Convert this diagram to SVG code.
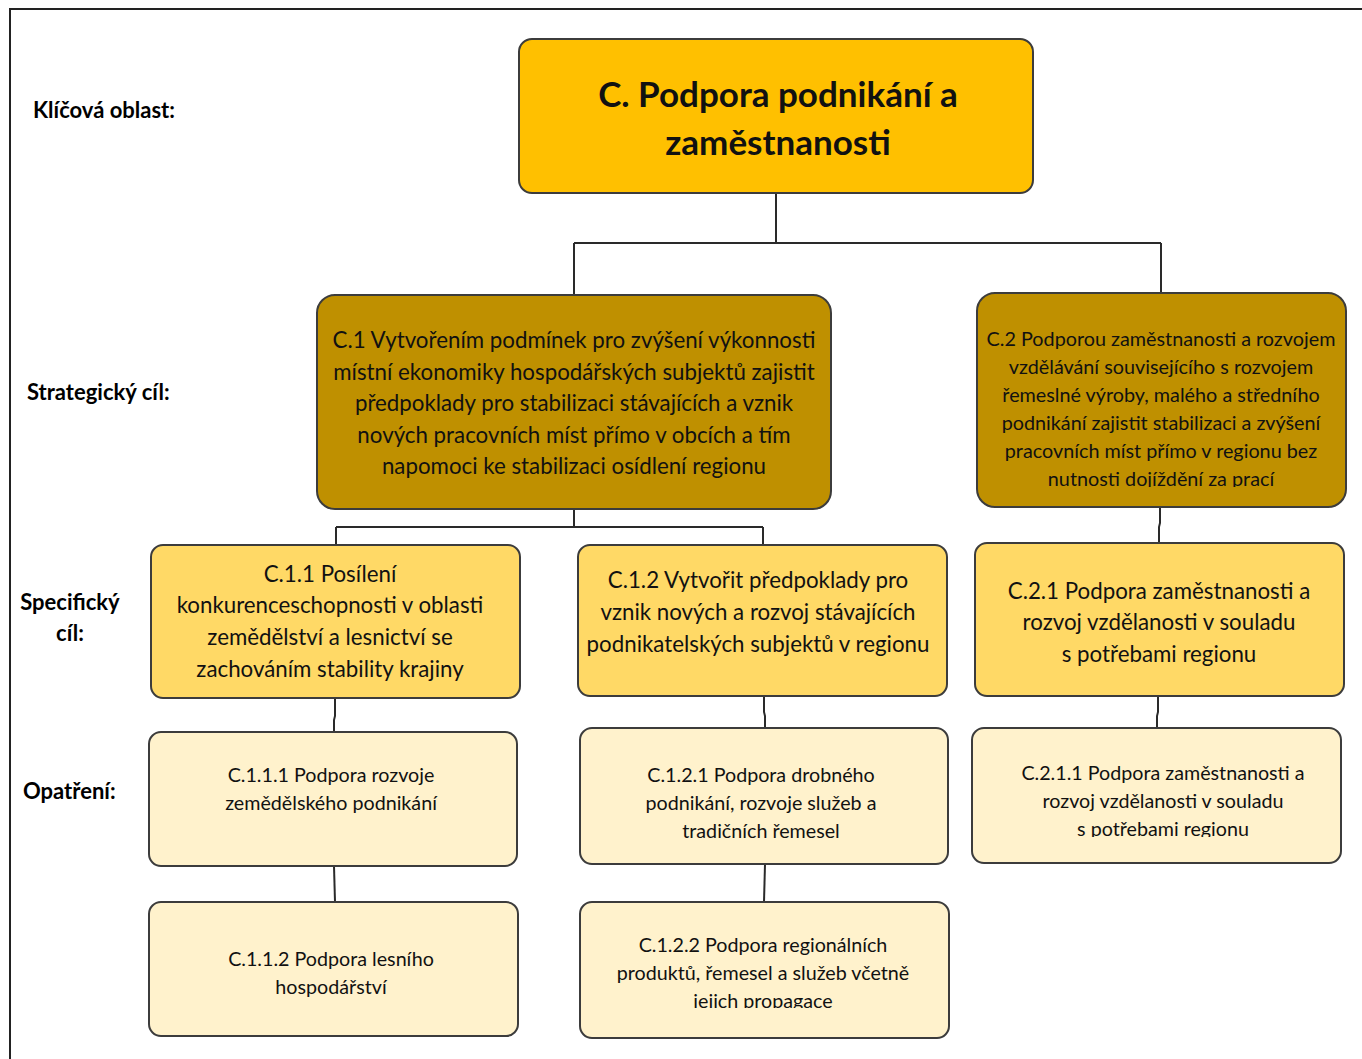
<svg xmlns="http://www.w3.org/2000/svg" width="1362" height="1059" viewBox="0 0 1362 1059">
<style>
.t{font-family:Lato,"Open Sans","Liberation Sans",sans-serif;fill:#111;text-anchor:middle}
.lbl{font-family:Lato,"Open Sans","Liberation Sans",sans-serif;font-weight:bold;fill:#000;font-size:22px}
.box{stroke:#3c3c3c;stroke-width:2}
.k{fill:#FFC000}.s{fill:#BF9000}.p{fill:#FFD966}.o{fill:#FFF2CC}
.c{fill:none;stroke:#2a2a2a;stroke-width:2}
</style>
<defs>
<clipPath id="cl11"><rect x="150" y="540" width="372" height="143"/></clipPath>
<clipPath id="cl2"><rect x="976" y="290" width="372" height="197"/></clipPath>
<clipPath id="cl211"><rect x="970" y="725" width="372" height="112"/></clipPath>
<clipPath id="cl122"><rect x="578" y="900" width="372" height="108"/></clipPath>
</defs>
<rect width="1362" height="1059" fill="#fff"/>
<rect x="10" y="9" width="1400" height="1100" fill="none" stroke="#222" stroke-width="2"/>

<g id="labels">
<text class="lbl" x="33" y="118">Klíčová oblast:</text>
<text class="lbl" x="27" y="400">Strategický cíl:</text>
<text class="lbl" x="70" y="610" text-anchor="middle">Specifický</text>
<text class="lbl" x="70" y="641" text-anchor="middle">cíl:</text>
<text class="lbl" x="23" y="799">Opatření:</text>
</g>

<g id="connectors">
<path class="c" d="M776 193V243M574 243H1161M574 243V295M1161 243V293"/>
<path class="c" d="M574 509V527M336 527H763M336 527V545M763 527V545"/>
<path class="c" d="M335 698V716L334 720V732"/>
<path class="c" d="M764 696V712L765 716V728"/>
<path class="c" d="M1160 507V523L1159 527V543"/>
<path class="c" d="M1158 696V712L1157 716V728"/>
<path class="c" d="M334 866L335 902"/>
<path class="c" d="M765 864L764 902"/>
</g>

<g id="C">
<rect class="box k" x="519" y="39" width="514" height="154" rx="13"/>
<text class="t" font-size="35" font-weight="bold" x="778" y="107">C. Podpora podnikání a</text>
<text class="t" font-size="35" font-weight="bold" x="778" y="155">zaměstnanosti</text>
</g>

<g id="C1">
<rect class="box s" x="317" y="295" width="514" height="214" rx="18"/>
<g class="t" font-size="22.3">
<text class="t" x="574" y="348">C.1 Vytvořením podmínek pro zvýšení výkonnosti</text>
<text class="t" x="574" y="380">místní ekonomiky hospodářských subjektů zajistit</text>
<text class="t" x="574" y="411">předpoklady pro stabilizaci stávajících a vznik</text>
<text class="t" x="574" y="443">nových pracovních míst přímo v obcích a tím</text>
<text class="t" x="574" y="474">napomoci ke stabilizaci osídlení regionu</text>
</g>
</g>

<g id="C2">
<rect class="box s" x="977" y="293" width="369" height="214" rx="18"/>
<g class="t" font-size="19.8" clip-path="url(#cl2)">
<text class="t" x="1161" y="346">C.2 Podporou zaměstnanosti a rozvojem</text>
<text class="t" x="1161" y="374">vzdělávání souvisejícího s rozvojem</text>
<text class="t" x="1161" y="402">řemeslné výroby, malého a středního</text>
<text class="t" x="1161" y="430">podnikání zajistit stabilizaci a zvýšení</text>
<text class="t" x="1161" y="458">pracovních míst přímo v regionu bez</text>
<text class="t" x="1161" y="486">nutnosti dojíždění za prací</text>
</g>
</g>

<g id="C11">
<rect class="box p" x="151" y="545" width="369" height="153" rx="12"/>
<g class="t" font-size="22.3" clip-path="url(#cl11)">
<text class="t" x="330" y="582">C.1.1 Posílení</text>
<text class="t" x="330" y="613">konkurenceschopnosti v oblasti</text>
<text class="t" x="330" y="645">zemědělství a lesnictví se</text>
<text class="t" x="330" y="677">zachováním stability krajiny</text>
</g>
</g>

<g id="C12">
<rect class="box p" x="578" y="545" width="369" height="151" rx="12"/>
<g class="t" font-size="22.3">
<text class="t" x="758" y="588">C.1.2 Vytvořit předpoklady pro</text>
<text class="t" x="758" y="620">vznik nových a rozvoj stávajících</text>
<text class="t" x="758" y="652">podnikatelských subjektů v regionu</text>
</g>
</g>

<g id="C21">
<rect class="box p" x="975" y="543" width="369" height="153" rx="12"/>
<g class="t" font-size="22.3">
<text class="t" x="1159" y="599">C.2.1 Podpora zaměstnanosti a</text>
<text class="t" x="1159" y="630">rozvoj vzdělanosti v souladu</text>
<text class="t" x="1159" y="662">s potřebami regionu</text>
</g>
</g>

<g id="C111">
<rect class="box o" x="149" y="732" width="368" height="134" rx="12"/>
<g class="t" font-size="19.7">
<text class="t" x="331" y="782">C.1.1.1 Podpora rozvoje</text>
<text class="t" x="331" y="810">zemědělského podnikání</text>
</g>
</g>

<g id="C121">
<rect class="box o" x="580" y="728" width="368" height="136" rx="12"/>
<g class="t" font-size="19.7">
<text class="t" x="761" y="782">C.1.2.1 Podpora drobného</text>
<text class="t" x="761" y="810">podnikání, rozvoje služeb a</text>
<text class="t" x="761" y="838">tradičních řemesel</text>
</g>
</g>

<g id="C211">
<rect class="box o" x="972" y="728" width="369" height="135" rx="12"/>
<g class="t" font-size="19.7" clip-path="url(#cl211)">
<text class="t" x="1163" y="780">C.2.1.1 Podpora zaměstnanosti a</text>
<text class="t" x="1163" y="808">rozvoj vzdělanosti v souladu</text>
<text class="t" x="1163" y="836">s potřebami regionu</text>
</g>
</g>

<g id="C112">
<rect class="box o" x="149" y="902" width="369" height="134" rx="12"/>
<g class="t" font-size="19.7">
<text class="t" x="331" y="966">C.1.1.2 Podpora lesního</text>
<text class="t" x="331" y="994">hospodářství</text>
</g>
</g>

<g id="C122">
<rect class="box o" x="580" y="902" width="369" height="136" rx="12"/>
<g class="t" font-size="19.7" clip-path="url(#cl122)">
<text class="t" x="763" y="952">C.1.2.2 Podpora regionálních</text>
<text class="t" x="763" y="980">produktů, řemesel a služeb včetně</text>
<text class="t" x="763" y="1008">jejich propagace</text>
</g>
</g>
</svg>
